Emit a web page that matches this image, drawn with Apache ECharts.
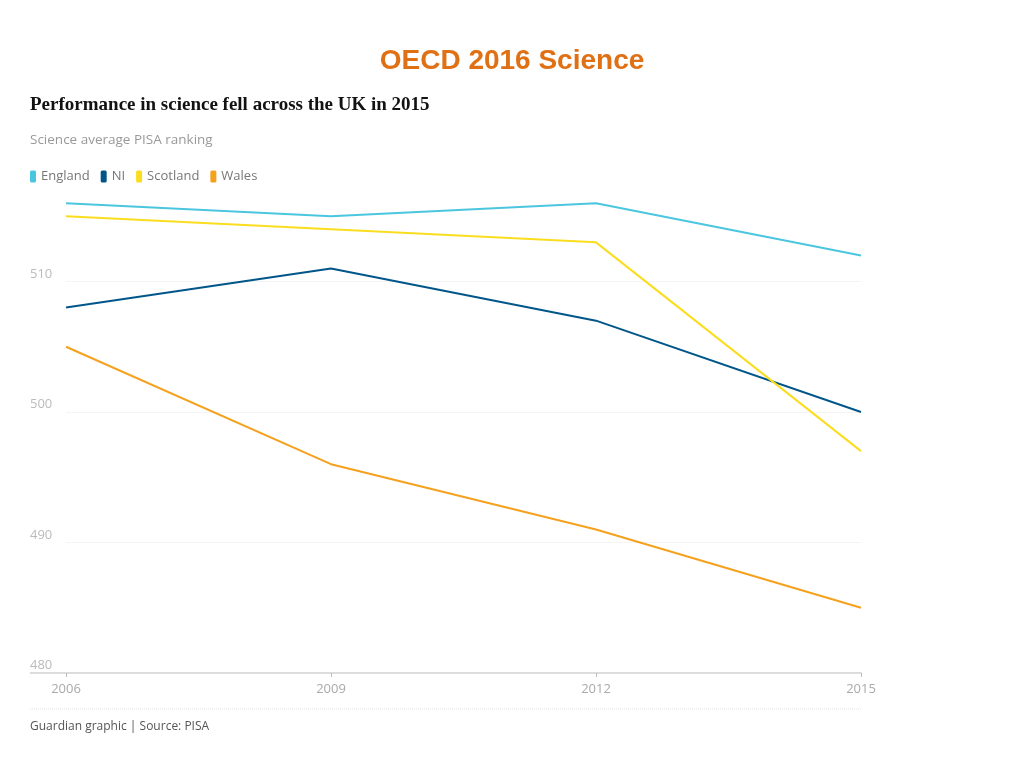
<!DOCTYPE html>
<html><head><meta charset="utf-8">
<script src="https://cdn.jsdelivr.net/npm/echarts@6/dist/echarts.min.js"></script>
<style>html,body{margin:0;padding:0;background:#fff}#c{width:1024px;height:768px}</style>
</head><body><div id="c"></div>
<script>
const years = ['2006', '2009', '2012', '2015'];
const england = [516, 515, 516, 512];
const ni = [508, 511, 507, 500];
const scotland = [515, 514, 513, 497];
const wales = [505, 496, 491, 485];
const yTicks = [480, 490, 500, 510];

const chart = echarts.init(document.getElementById('c'));
const mk = (name, data, color) => ({
  name, type: 'line', data, symbol: 'none', smooth: false,
  lineStyle: { color, width: 2 }, itemStyle: { color }
});
chart.setOption({
  animation: false,
  backgroundColor: '#fff',
  title: [
    { text: 'OECD 2016 Science', left: 'center', top: 42,
      textStyle: { fontFamily: 'Liberation Sans, Arial', fontSize: 28, fontWeight: 'bold', color: '#e07014' } },
    { text: 'Performance in science fell across the UK in 2015', left: 25, top: 91,
      textStyle: { fontFamily: 'Liberation Serif, serif', fontSize: 19, fontWeight: 'bold', color: '#121212' } },
    { text: 'Science average PISA ranking', left: 25, top: 128,
      textStyle: { fontFamily: 'Open Sans, Noto Sans, sans-serif', fontSize: 13.5, fontWeight: 'normal', color: '#999' } },
    { text: 'Guardian graphic | Source: PISA', left: 25, top: 716,
      textStyle: { fontFamily: 'Open Sans, Noto Sans, sans-serif', fontSize: 12, fontWeight: 'normal', color: '#555' } }
  ],
  legend: {
    left: 25, top: 165, icon: 'roundRect', itemWidth: 6, itemHeight: 12, itemGap: 11,
    textStyle: { fontFamily: 'Open Sans, Noto Sans, sans-serif', fontSize: 13, color: '#777' },
    data: ['England', 'NI', 'Scotland', 'Wales']
  },
  grid: { left: 66, right: 163, top: 151, bottom: 95 },
  xAxis: {
    type: 'category', data: years, boundaryGap: false,
    axisLine: { lineStyle: { color: '#dcdcdc', width: 2 } },
    axisTick: { show: true, alignWithLabel: true, length: 4, lineStyle: { color: '#bbb' } },
    axisLabel: { color: '#aaa', fontSize: 13, margin: 10, fontFamily: 'Open Sans, Noto Sans, sans-serif' }
  },
  yAxis: {
    type: 'value', min: 480, max: 520, interval: 10,
    axisLine: { show: false }, axisTick: { show: false },
    axisLabel: {
      color: '#bbb', fontSize: 13, align: 'left', verticalAlign: 'bottom', margin: 36,
      padding: [0, 0, 1, 0],
      fontFamily: 'Open Sans, Noto Sans, sans-serif',
      formatter: v => yTicks.includes(v) ? String(v) : ''
    },
    splitLine: { lineStyle: { color: ['#f4f4f4', '#f4f4f4', '#f4f4f4', '#f4f4f4', 'rgba(0,0,0,0)'] } }
  },
  graphic: [
    { type: 'line', shape: { x1: 30, y1: 673, x2: 66, y2: 673 }, style: { stroke: '#dcdcdc', lineWidth: 2 } },
    { type: 'line', shape: { x1: 30, y1: 709, x2: 861, y2: 709 }, style: { stroke: '#e2e2e2', lineWidth: 1, lineDash: [1, 1] } }
  ],
  series: [
    mk('England', england, '#4bc6df'),
    mk('NI', ni, '#005689'),
    mk('Scotland', scotland, '#fbdd1f'),
    mk('Wales', wales, '#f5a11e')
  ]
});
</script></body></html>
